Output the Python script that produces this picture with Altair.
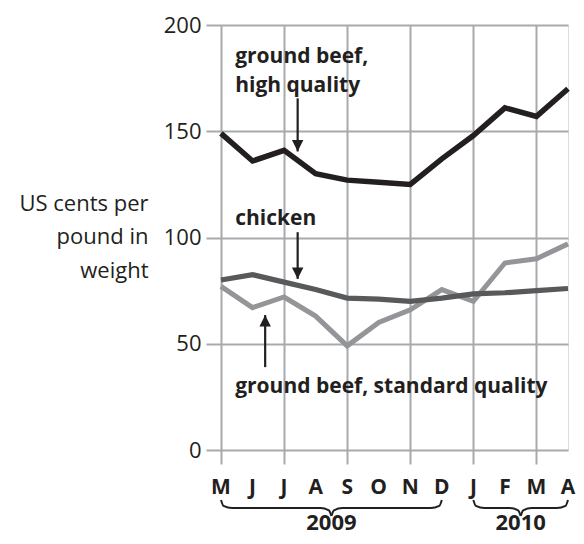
import altair as alt
import pandas as pd

# ---- data ----
months = ["M", "J", "J", "A", "S", "O", "N", "D", "J", "F", "M", "A"]
high_quality = [149, 136, 141, 130, 127, 126, 125, 137, 148, 161, 157, 170]
chicken = [80, 82.5, 79, 75.5, 71.5, 71, 70, 71.5, 73.5, 74, 75, 76]
standard = [77, 67, 72, 63, 49, 60, 66, 75.5, 70, 88, 90, 97]
y_ticks = [0, 50, 100, 150, 200]

series_names = ["ground beef, standard quality", "chicken", "ground beef, high quality"]
series_colors = ["#939598", "#58595b", "#231f20"]
series_widths = [5, 5.5, 6.5]

years = ["2009", "2010"]
year_first_month = [0, 8]
year_last_month = [7, 11]

# annotations (label text, anchor month, anchor value)
ann_text = ["ground beef,\nhigh quality", "chicken", "ground beef, standard quality"]
ann_x = [0.45, 0.45, 0.45]
ann_y = [182.0, 106.0, 27.0]

# arrows (month position, start value, tip value)
arrow_x = [2.43, 2.43, 1.4]
arrow_from = [165.5, 102.5, 39.0]
arrow_to = [140.5, 80.5, 63.5]

GRID = "#a7a9ac"
INK = "#231f20"
FONT = "Open Sans"

# ---- tables ----
rows = []
for name, vals in zip(series_names, [standard, chicken, high_quality]):
    for i, v in enumerate(vals):
        rows.append({"series": name, "m": i, "value": v})
lines_df = pd.DataFrame(rows)

month_df = pd.DataFrame({"m": list(range(len(months))), "label": months, "y": [-20.6] * len(months)})

ann_df = pd.DataFrame({"text": ann_text, "x": ann_x, "y": ann_y})

arrow_df = pd.DataFrame({"x": arrow_x, "y0": arrow_from, "y1": arrow_to})
arrow_df["up"] = arrow_df["y1"] > arrow_df["y0"]

# curly braces under the month labels, one per year
brace_rows = []
top, flat, tip = -23.5, -27.3, -31.0
for yr, a, b in zip(years, year_first_month, year_last_month):
    c = (a + b) / 2
    left = [(a, top), (a + 0.08, -26.3), (a + 0.35, flat), (c - 0.35, flat), (c - 0.08, -28.4), (c, tip)]
    right = [(c, tip), (c + 0.08, -28.4), (c + 0.35, flat), (b - 0.35, flat), (b - 0.08, -26.3), (b, top)]
    for k, (px, py) in enumerate(left):
        brace_rows.append({"piece": yr + "L", "x": px, "y": py, "o": k})
    for k, (px, py) in enumerate(right):
        brace_rows.append({"piece": yr + "R", "x": px, "y": py, "o": k})
brace_df = pd.DataFrame(brace_rows)

year_df = pd.DataFrame({
    "year": years,
    "x": [(a + b) / 2 for a, b in zip(year_first_month, year_last_month)],
    "y": [-37.6, -37.6],
})

x_scale = alt.Scale(domain=[0, 11], nice=False, zero=False)
y_scale = alt.Scale(domain=[0, 200], nice=False)

x_axis = alt.Axis(
    values=list(range(len(months))), labels=False, title=None,
    grid=True, gridColor=GRID, gridWidth=2, domain=False,
    tickSize=14, tickColor=GRID, tickWidth=2,
)
y_axis = alt.Axis(
    values=y_ticks, title=["US cents per", "pound in", "weight"],
    grid=True, gridColor=GRID, gridWidth=2, domain=False,
    tickSize=15, tickColor=GRID, tickWidth=2,
    labelFont=FONT, labelFontSize=22, labelColor=INK, labelPadding=5,
    labelOverlap=False, labelFlush=False,
    titleFont=FONT, titleFontSize=22, titleFontWeight="normal", titleColor=INK,
    titleAngle=0, titleAlign="right", titleBaseline="alphabetic",
    titleX=-73, titleY=185, titleLineHeight=33.5,
)

base_lines = alt.Chart(lines_df).mark_line(strokeJoin="miter", clip=False).encode(
    x=alt.X("m:Q", scale=x_scale, axis=x_axis),
    y=alt.Y("value:Q", scale=y_scale, axis=y_axis),
    color=alt.Color("series:N", scale=alt.Scale(domain=series_names, range=series_colors), legend=None),
    strokeWidth=alt.StrokeWidth("series:N", scale=alt.Scale(domain=series_names, range=series_widths), legend=None),
    order=alt.Order("m:Q"),
)

month_text = alt.Chart(month_df).mark_text(
    align="center", baseline="alphabetic", font=FONT, fontSize=21, fontWeight="bold", color=INK
).encode(x="m:Q", y="y:Q", text="label:N")

ann = alt.Chart(ann_df).mark_text(
    align="left", baseline="alphabetic", font=FONT, fontSize=21, fontWeight="bold",
    color=INK, lineBreak="\n", lineHeight=29,
).encode(x="x:Q", y="y:Q", text="text:N")

arrow_shaft = alt.Chart(arrow_df).mark_rule(color=INK, strokeWidth=2.2).encode(
    x="x:Q", y="y0:Q", y2="y1:Q"
)
head_down = alt.Chart(arrow_df[~arrow_df["up"]]).mark_point(
    shape="M-1,-2L1,-2L0,0Z", filled=True, color=INK, opacity=1, size=130, strokeWidth=0
).encode(x="x:Q", y="y1:Q")
head_up = alt.Chart(arrow_df[arrow_df["up"]]).mark_point(
    shape="M-1,2L1,2L0,0Z", filled=True, color=INK, opacity=1, size=130, strokeWidth=0
).encode(x="x:Q", y="y1:Q")

braces = alt.Chart(brace_df).mark_line(
    color=INK, strokeWidth=2, interpolate="monotone", clip=False
).encode(x="x:Q", y="y:Q", detail="piece:N", order="o:Q")

year_text = alt.Chart(year_df).mark_text(
    align="center", baseline="alphabetic", font=FONT, fontSize=22, fontWeight="bold", color=INK
).encode(x="x:Q", y="y:Q", text="year:N")

chart = alt.layer(
    base_lines, arrow_shaft, head_down, head_up, ann, month_text, braces, year_text
).properties(
    width=347, height=425,
    autosize=alt.AutoSizeParams(type="none"),
    padding={"left": 213, "top": 17, "right": 8, "bottom": 86},
).configure_view(stroke=None).configure(background="white")

chart.save("out.html", embed_options={"renderer": "svg", "actions": False})
